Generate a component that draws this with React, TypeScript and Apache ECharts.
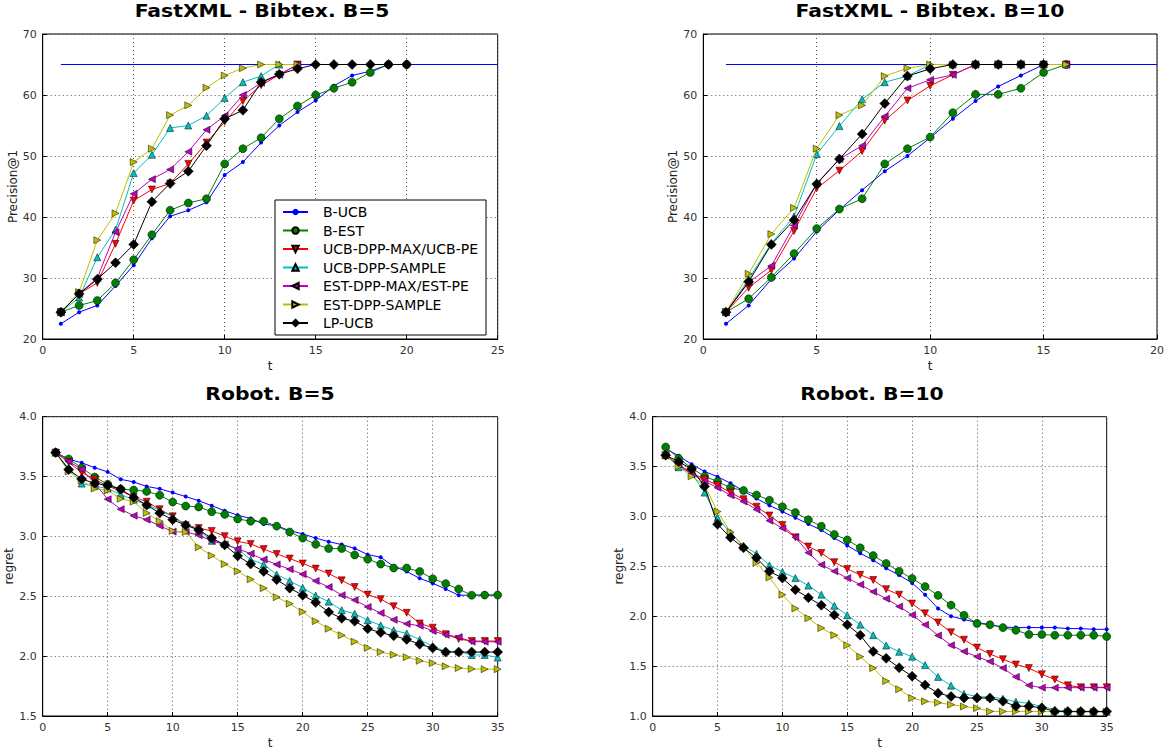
import React, { useEffect, useRef } from "react";
import * as echarts from "echarts";

const SERIES_NAMES = [
  "B-UCB",
  "B-EST",
  "UCB-DPP-MAX/UCB-PE",
  "UCB-DPP-SAMPLE",
  "EST-DPP-MAX/EST-PE",
  "EST-DPP-SAMPLE",
  "LP-UCB",
];

const TITLES = ["FastXML - Bibtex. B=5", "FastXML - Bibtex. B=10", "Robot. B=5", "Robot. B=10"];

// ---- FastXML - Bibtex, B=5 (t = 1..) ----
const fx5_bucb = [22.5, 24.4, 25.5, 28.7, 32.1, 36.5, 40.1, 41.1, 42.4, 46.9, 49.0, 52.2, 55.0, 57.2, 59.1, 61.5, 63.2, 63.9, 65.0, 65.0];
const fx5_best = [24.4, 25.5, 26.3, 29.2, 33.0, 37.1, 41.1, 42.3, 43.0, 48.7, 51.2, 53.0, 56.1, 58.2, 60.0, 61.1, 62.1, 63.7, 65.0, 65.0];
const fx5_ucbmax = [24.4, 27.4, 29.2, 35.6, 42.7, 44.5, 45.5, 48.7, 52.2, 55.6, 59.0, 61.6, 63.3, 65.0];
const fx5_ucbsample = [24.4, 26.8, 33.4, 37.9, 47.2, 50.2, 54.6, 55.0, 56.6, 59.5, 62.1, 63.1, 65.0, 65.0];
const fx5_estmax = [24.4, 27.4, 30.0, 37.5, 43.8, 46.2, 47.8, 50.7, 54.3, 56.6, 60.0, 62.0, 63.3, 65.0];
const fx5_estsample = [24.4, 27.7, 36.2, 40.6, 49.0, 51.2, 56.7, 58.3, 61.2, 63.2, 64.4, 65.0, 65.0, 65.0];
const fx5_lpucb = [24.4, 27.4, 29.8, 32.5, 35.5, 42.5, 45.5, 47.5, 51.7, 56.1, 57.5, 62.1, 63.4, 64.3, 65.0, 65.0, 65.0, 65.0, 65.0, 65.0];

// ---- FastXML - Bibtex, B=10 ----
const fx10_bucb = [22.5, 25.5, 29.8, 33.2, 37.6, 41.2, 44.4, 47.5, 50.0, 53.0, 56.1, 59.0, 61.4, 63.2, 65.0, 65.0];
const fx10_best = [24.4, 26.6, 30.1, 34.0, 38.1, 41.3, 43.0, 48.7, 51.2, 53.1, 57.1, 60.1, 60.1, 61.1, 63.7, 65.0];
const fx10_ucbmax = [24.4, 28.4, 31.3, 37.7, 44.7, 47.6, 50.8, 55.8, 59.1, 61.5, 63.3, 65.0, 65.0, 65.0, 65.0, 65.0];
const fx10_ucbsample = [24.4, 29.8, 35.7, 40.1, 50.3, 54.9, 59.3, 62.1, 63.1, 65.0, 65.0, 65.0, 65.0, 65.0, 65.0, 65.0];
const fx10_estmax = [24.4, 29.3, 32.0, 38.6, 45.5, 49.5, 51.7, 56.5, 61.1, 62.5, 63.3, 65.0, 65.0, 65.0, 65.0, 65.0];
const fx10_estsample = [24.4, 30.7, 37.2, 41.5, 51.2, 56.7, 58.3, 63.1, 64.4, 65.0, 65.0, 65.0, 65.0, 65.0, 65.0, 65.0];
const fx10_lpucb = [24.4, 29.4, 35.5, 39.5, 45.4, 49.5, 53.6, 58.6, 63.1, 64.3, 65.0, 65.0, 65.0, 65.0, 65.0];

// optimum reference line (FastXML plots)
const OPT_VALUE = 65.0;

// ---- Robot, B=5 ----
const rb5_bucb = [3.70, 3.645, 3.615, 3.574, 3.539, 3.477, 3.455, 3.417, 3.398, 3.366, 3.333, 3.298, 3.257, 3.214, 3.178, 3.149, 3.103, 3.089, 3.048, 3.021, 2.986, 2.956, 2.932, 2.900, 2.848, 2.826, 2.750, 2.707, 2.650, 2.609, 2.560, 2.509, 2.509, 2.510, 2.510];
const rb5_best = [3.70, 3.647, 3.574, 3.496, 3.436, 3.395, 3.387, 3.376, 3.344, 3.287, 3.254, 3.246, 3.206, 3.184, 3.146, 3.127, 3.127, 3.086, 3.037, 2.986, 2.934, 2.899, 2.899, 2.845, 2.810, 2.769, 2.736, 2.736, 2.707, 2.647, 2.606, 2.560, 2.509, 2.510, 2.510];
const rb5_ucbmax = [3.70, 3.62, 3.534, 3.477, 3.42, 3.38, 3.33, 3.29, 3.227, 3.168, 3.094, 3.07, 3.046, 3.002, 2.959, 2.937, 2.894, 2.853, 2.815, 2.774, 2.731, 2.69, 2.633, 2.577, 2.514, 2.476, 2.417, 2.362, 2.273, 2.238, 2.183, 2.143, 2.126, 2.126, 2.126];
const rb5_ucbsample = [3.70, 3.566, 3.441, 3.42, 3.40, 3.349, 3.306, 3.265, 3.219, 3.165, 3.103, 3.051, 2.963, 2.937, 2.894, 2.807, 2.766, 2.682, 2.628, 2.571, 2.506, 2.455, 2.384, 2.354, 2.30, 2.257, 2.216, 2.189, 2.137, 2.083, 2.04, 2.04, 2.01, 2.01, 1.988];
const rb5_estmax = [3.70, 3.626, 3.561, 3.444, 3.311, 3.227, 3.173, 3.14, 3.089, 3.04, 3.037, 3.01, 2.963, 2.934, 2.896, 2.856, 2.807, 2.766, 2.726, 2.685, 2.628, 2.577, 2.509, 2.468, 2.411, 2.360, 2.303, 2.270, 2.254, 2.210, 2.178, 2.159, 2.121, 2.12, 2.12];
const rb5_estsample = [3.70, 3.542, 3.466, 3.40, 3.384, 3.314, 3.29, 3.195, 3.127, 3.046, 3.037, 2.91, 2.84, 2.769, 2.709, 2.642, 2.568, 2.492, 2.438, 2.370, 2.292, 2.229, 2.175, 2.121, 2.069, 2.034, 2.012, 1.991, 1.961, 1.942, 1.915, 1.901, 1.893, 1.891, 1.891];
const rb5_lpucb = [3.70, 3.558, 3.479, 3.444, 3.425, 3.395, 3.325, 3.262, 3.195, 3.14, 3.094, 3.054, 2.986, 2.929, 2.837, 2.769, 2.707, 2.639, 2.568, 2.509, 2.449, 2.368, 2.316, 2.292, 2.229, 2.197, 2.170, 2.140, 2.099, 2.069, 2.034, 2.034, 2.034, 2.034, 2.034];

// ---- Robot, B=10 ----
const rb10_bucb = [3.68, 3.608, 3.523, 3.451, 3.399, 3.333, 3.255, 3.180, 3.111, 3.049, 2.987, 2.925, 2.863, 2.784, 2.709, 2.631, 2.562, 2.480, 2.412, 2.333, 2.216, 2.078, 2.0, 1.967, 1.938, 1.915, 1.892, 1.886, 1.886, 1.886, 1.886, 1.876, 1.876, 1.869, 1.869];
const rb10_best = [3.696, 3.582, 3.484, 3.402, 3.35, 3.288, 3.261, 3.216, 3.163, 3.098, 3.039, 2.967, 2.902, 2.820, 2.765, 2.686, 2.608, 2.529, 2.451, 2.379, 2.297, 2.209, 2.111, 2.010, 1.928, 1.915, 1.886, 1.859, 1.817, 1.817, 1.81, 1.81, 1.81, 1.81, 1.797];
const rb10_ucbmax = [3.614, 3.52, 3.435, 3.373, 3.314, 3.239, 3.173, 3.098, 3.01, 2.915, 2.791, 2.699, 2.634, 2.542, 2.474, 2.415, 2.363, 2.271, 2.216, 2.127, 2.029, 1.938, 1.840, 1.765, 1.686, 1.621, 1.569, 1.516, 1.480, 1.418, 1.366, 1.307, 1.288, 1.288, 1.288];
const rb10_ucbsample = [3.614, 3.493, 3.431, 3.239, 2.987, 2.837, 2.706, 2.627, 2.510, 2.444, 2.382, 2.307, 2.216, 2.105, 2.010, 1.915, 1.810, 1.706, 1.644, 1.595, 1.510, 1.392, 1.304, 1.222, 1.196, 1.190, 1.173, 1.144, 1.127, 1.095, 1.062, 1.046, 1.042, 1.042, 1.042];
const rb10_estmax = [3.614, 3.516, 3.425, 3.353, 3.288, 3.212, 3.150, 3.069, 2.958, 2.882, 2.791, 2.637, 2.516, 2.451, 2.382, 2.317, 2.245, 2.176, 2.098, 2.013, 1.915, 1.807, 1.709, 1.647, 1.595, 1.546, 1.480, 1.392, 1.307, 1.284, 1.284, 1.284, 1.284, 1.284, 1.284];
const rb10_estsample = [3.614, 3.50, 3.402, 3.31, 3.049, 2.843, 2.696, 2.536, 2.389, 2.216, 2.078, 1.980, 1.882, 1.810, 1.709, 1.595, 1.480, 1.350, 1.268, 1.180, 1.147, 1.134, 1.114, 1.095, 1.078, 1.046, 1.046, 1.046, 1.046, 1.046, 1.042, 1.042, 1.042, 1.042, 1.042];
const rb10_lpucb = [3.614, 3.549, 3.477, 3.301, 2.922, 2.788, 2.686, 2.585, 2.451, 2.382, 2.265, 2.186, 2.111, 2.013, 1.915, 1.810, 1.647, 1.578, 1.484, 1.399, 1.310, 1.229, 1.196, 1.180, 1.180, 1.180, 1.147, 1.098, 1.098, 1.082, 1.046, 1.046, 1.046, 1.046, 1.046];

const PANELS = [
  [fx5_bucb, fx5_best, fx5_ucbmax, fx5_ucbsample, fx5_estmax, fx5_estsample, fx5_lpucb],
  [fx10_bucb, fx10_best, fx10_ucbmax, fx10_ucbsample, fx10_estmax, fx10_estsample, fx10_lpucb],
  [rb5_bucb, rb5_best, rb5_ucbmax, rb5_ucbsample, rb5_estmax, rb5_estsample, rb5_lpucb],
  [rb10_bucb, rb10_best, rb10_ucbmax, rb10_ucbsample, rb10_estmax, rb10_estsample, rb10_lpucb],
];

const X_RANGES = [
  [0, 25],
  [0, 20],
  [0, 35],
  [0, 35],
];
const Y_RANGES = [
  [20, 70, 10],
  [20, 70, 10],
  [1.5, 4.0, 0.5],
  [1.0, 4.0, 0.5],
];
const Y_NAMES = ["Precision@1", "Precision@1", "regret", "regret"];
const OPT_END = [25, 20];

const COLORS = ["#0000ff", "#008000", "#ff0000", "#00bfbf", "#bf00bf", "#bfbf00", "#000000"];
const SYMBOLS = ["circle", "circle", "triangle", "triangle", "triangle", "triangle", "diamond"];
const SYMBOL_ROT = [0, 0, 180, 0, 90, -90, 0];
const SYMBOL_SIZE = [4, 8, 7, 7, 7, 7, 10];

const GRIDS = [
  { left: 42.7, top: 34, width: 455, height: 305 },
  { left: 703.3, top: 34, width: 455.7, height: 305 },
  { left: 42.7, top: 416.7, width: 455, height: 307.3 },
  { left: 652.7, top: 416.7, width: 454, height: 307.3 },
];
const TITLE_POS = [
  { x: 262, y: 11 },
  { x: 930, y: 11 },
  { x: 270, y: 394 },
  { x: 872, y: 394 },
];

const FONT = "DejaVu Sans";

export default function App() {
  const ref = useRef<HTMLDivElement>(null);
  useEffect(() => {
    if (!ref.current) return;
    const chart = echarts.init(ref.current, undefined, { renderer: "svg" });

    const xAxis: any[] = [];
    const yAxis: any[] = [];
    const series: any[] = [];
    const graphic: any[] = [];

    GRIDS.forEach((g, i) => {
      graphic.push({
        type: "text",
        x: TITLE_POS[i].x,
        y: TITLE_POS[i].y,
        scaleX: 1.13,
        scaleY: 1,
        z: 30,
        style: {
          text: TITLES[i],
          fontFamily: FONT,
          fontSize: 18,
          fontWeight: "bold",
          fill: "#000",
          textAlign: "center",
          textVerticalAlign: "middle",
        },
      });
      xAxis.push({
        type: "value",
        gridIndex: i,
        min: X_RANGES[i][0],
        max: X_RANGES[i][1],
        interval: 5,
        name: "t",
        nameLocation: "middle",
        nameGap: 21,
        nameTextStyle: { fontFamily: FONT, fontSize: 12, color: "#222" },
        axisLine: { show: true, onZero: false, lineStyle: { color: "#000", width: 1 } },
        axisTick: { show: true, inside: true, length: 4, lineStyle: { color: "#000" } },
        axisLabel: { fontFamily: FONT, fontSize: 11, color: "#333", margin: 6 },
        splitLine: { show: true, lineStyle: { type: [1, 3], color: "#555", width: 1 } },
      });
      yAxis.push({
        type: "value",
        gridIndex: i,
        min: Y_RANGES[i][0],
        max: Y_RANGES[i][1],
        interval: Y_RANGES[i][2],
        name: Y_NAMES[i],
        nameLocation: "middle",
        nameGap: i < 2 ? 23 : 24,
        nameRotate: 90,
        nameTextStyle: { fontFamily: FONT, fontSize: 12, color: "#222" },
        axisLine: { show: true, onZero: false, lineStyle: { color: "#000", width: 1 } },
        axisTick: { show: true, inside: true, length: 4, lineStyle: { color: "#000" } },
        axisLabel: {
          fontFamily: FONT,
          fontSize: 11,
          color: "#333",
          margin: 6,
          formatter: (v: number) => (i < 2 ? String(v) : v.toFixed(1)),
        },
        splitLine: { show: true, lineStyle: { type: [1, 3], color: "#555", width: 1 } },
      });

      if (i < 2) {
        series.push({
          type: "line",
          name: "optimum",
          xAxisIndex: i,
          yAxisIndex: i,
          data: [
            [1, OPT_VALUE],
            [OPT_END[i], OPT_VALUE],
          ],
          showSymbol: false,
          symbol: "none",
          lineStyle: { color: "#0000ff", width: 1 },
          silent: true,
          z: 1,
        });
      }

      PANELS[i].forEach((arr, k) => {
        series.push({
          type: "line",
          name: SERIES_NAMES[k],
          xAxisIndex: i,
          yAxisIndex: i,
          data: arr.map((v, j) => [j + 1, v]),
          symbol: SYMBOLS[k],
          symbolRotate: SYMBOL_ROT[k],
          symbolSize: SYMBOL_SIZE[k],
          showAllSymbol: true,
          color: COLORS[k],
          lineStyle: { color: COLORS[k], width: 1 },
          itemStyle: {
            color: COLORS[k],
            borderColor: k === 0 ? COLORS[k] : "#000",
            borderWidth: k === 0 ? 0 : 0.5,
          },
          z: 2 + k,
        });
      });
    });

    chart.setOption({
      animation: false,
      backgroundColor: "#fff",
      graphic,
      grid: GRIDS.map((g) => ({
        ...g,
        show: true,
        borderColor: "#000",
        borderWidth: 1,
        backgroundColor: "transparent",
      })),
      xAxis,
      yAxis,
      legend: {
        data: SERIES_NAMES,
        orient: "vertical",
        left: 275,
        top: 200,
        padding: [5, 8, 5, 7],
        itemWidth: 25,
        itemHeight: 8,
        itemGap: 4.5,
        backgroundColor: "#fff",
        borderColor: "#000",
        borderWidth: 1,
        borderRadius: 0,
        textStyle: { fontFamily: FONT, fontSize: 14, lineHeight: 14, color: "#000", padding: [0, 0, 0, 10] },
        z: 20,
      },
      series,
    });
    return () => chart.dispose();
  }, []);
  return (
    <div
      ref={ref}
      style={{ position: "fixed", left: 0, top: 0, width: 1167, height: 750, background: "#fff" }}
    />
  );
}
